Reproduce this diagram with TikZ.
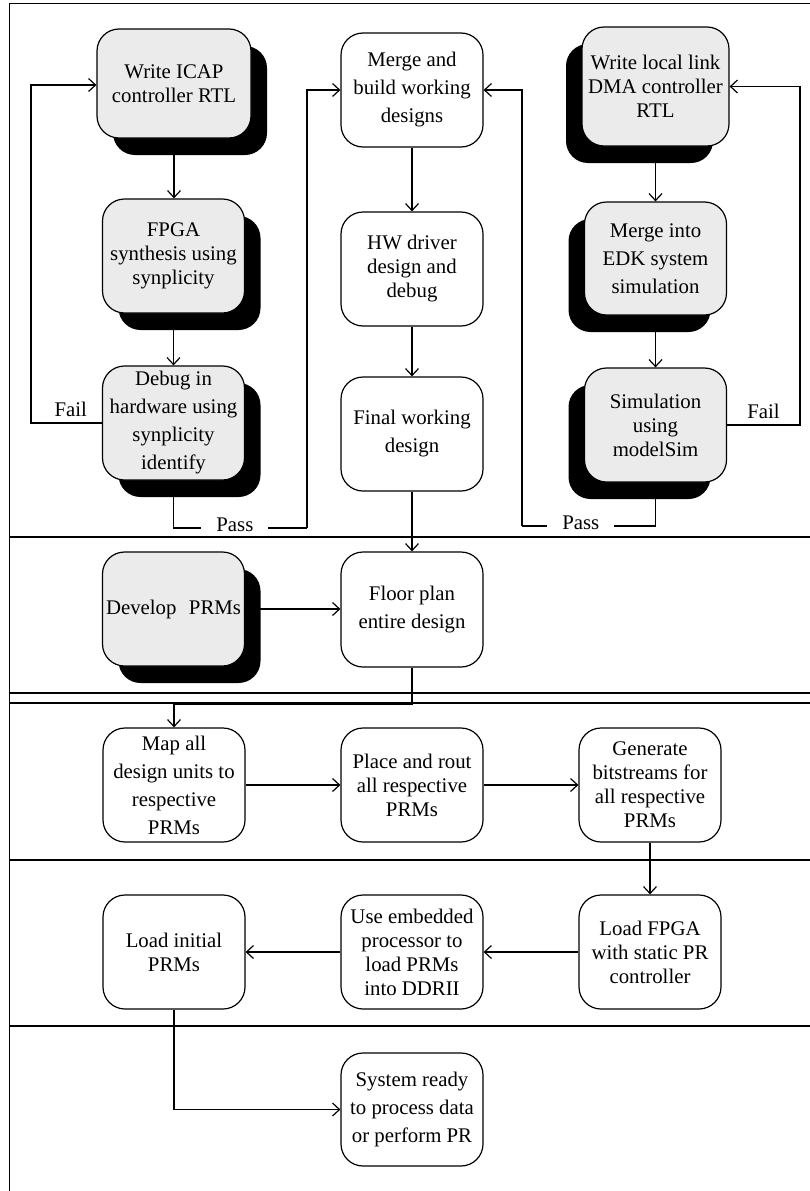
\documentclass[tikz,border=0pt]{standalone}
\usepackage{fontspec}
\setmainfont{Liberation Serif}
\usetikzlibrary{arrows.meta,shadows}
\definecolor{boxgray}{HTML}{EBEBEB}
\begin{document}
\begin{tikzpicture}[x=1pt,y=-1pt,
  every node/.style={inner sep=0pt},
  stepbox/.style={draw, line width=1.2pt, rounded corners=22pt, align=center,
    minimum width=142pt, minimum height=114pt, fill=white,
    font=\fontsize{20.8}{24}\selectfont},
  loose/.style={font=\fontsize{20.8}{28}\selectfont},
  graybox/.style={stepbox, fill=boxgray},
  shR/.style={drop shadow={shadow xshift=16pt, shadow yshift=-17pt, opacity=1, fill=black}},
  shL/.style={drop shadow={shadow xshift=-16pt, shadow yshift=-17pt, opacity=1, fill=black}},
  conn/.style={line width=1.2pt, -{Straight Barb[length=7pt,width=13pt]}},
  plain/.style={line width=1.2pt},
  sep/.style={line width=1.8pt},
  lbl/.style={font=\fontsize{20.8}{24}\selectfont},
  gaplbl/.style={lbl, fill=white, inner xsep=15pt, inner ysep=3pt, yshift=3pt},
]
\useasboundingbox (0,0) rectangle (809,1191);

% frame and lane separators
\draw[line width=1.5pt] (9.5,1200) -- (9.5,3.5) -- (820,3.5);
\foreach \yy in {537,693,703,860,1026}
  \draw[sep] (9.5,\yy) -- (820,\yy);

% anchor columns for the loop connectors
\coordinate (failL) at (31,0);
\coordinate (passL) at (307,528);
\coordinate (passR) at (522,526);
\coordinate (failR) at (800,0);
\coordinate (fm) at (0,704);

% first lane
\node[graybox, shR, minimum width=154pt, minimum height=109pt] (icap) at (174,83.5) {Write ICAP\\controller RTL};
\node[graybox, shR] (fpga) at (173.5,256) {FPGA\\synthesis using\\synplicity};
\node[graybox, shR, loose] (debug) at (173.5,423) {Debug in\\hardware using\\synplicity\\identify};

\node[stepbox, loose] (merge) at (412,90) {Merge and\\build working\\designs};
\node[stepbox] (hw) at (412,269) {HW driver\\design and\\debug};
\node[stepbox, loose] (final) at (412,434) {Final working\\design};

\node[graybox, shL, minimum width=147pt, minimum height=119pt] (dma) at (655.5,86.5) {Write local link\\DMA controller\\RTL};
\node[graybox, shL, loose, minimum height=113pt] (edk) at (655.5,258.5) {Merge into\\EDK system\\simulation};
\node[graybox, shL] (sim) at (655.5,425) {Simulation\\using\\modelSim};

% second lane
\node[graybox, shR] (develop) at (173.5,609) {Develop\hspace{0.6em}PRMs};
\node[stepbox, loose, minimum height=115pt] (floor) at (412,609.5) {Floor plan\\entire design};

% third lane
\node[stepbox, loose] (map) at (174,785) {Map all\\design units to\\respective\\PRMs};
\node[stepbox] (place) at (412,785) {Place and rout\\all respective\\PRMs};
\node[stepbox] (gen) at (650,785) {Generate\\bitstreams for\\all respective\\PRMs};

% fourth lane
\node[stepbox] (loadfpga) at (650,952) {Load FPGA\\with static PR\\controller};
\node[stepbox] (use) at (412,952) {Use embedded\\processor to\\load PRMs\\into DDRII};
\node[stepbox] (loadinit) at (174,952) {Load initial\\PRMs};

% fifth lane
\node[stepbox, loose, minimum height=113pt] (sys) at (412,1109.5) {System ready\\to process data\\or perform PR};

% connectors, first lane
\draw[conn] (icap.south) -- (icap.south |- fpga.north);
\draw[conn] (fpga.south) -- (debug.north);
\draw[conn] (debug.west) -- node[lbl, above=6pt, pos=0.44] (failtxtL) {Fail} (debug.west -| failL) |- (icap.west |- 0,85);
\draw[plain] (debug.south) |- node[gaplbl, pos=0.73] (passtxtL) {Pass} (passL);
\draw[conn] (passL) |- (merge.west);
\draw[conn] (merge) -- (hw);
\draw[conn] (hw) -- (final);
\draw[conn] (dma.south) -- (dma.south |- edk.north);
\draw[conn] (edk) -- (sim);
\draw[conn] (sim.east) -- node[lbl, above=6pt] (failtxtR) {Fail} (sim.east -| failR) |- (dma.east);
\draw[plain] (sim.south) |- node[gaplbl, pos=0.78] (passtxtR) {Pass} (passR);
\draw[conn] (passR) |- (merge.east);

% connectors, lower lanes
\draw[conn] (final) -- (floor);
\draw[conn] (develop.east) -- (floor.west |- develop.east);
\draw[conn] (floor.south) -- (floor.south |- fm) -| (map.north);
\draw[conn] (map) -- (place);
\draw[conn] (place) -- (gen);
\draw[conn] (gen) -- (loadfpga);
\draw[conn] (loadfpga) -- (use);
\draw[conn] (use) -- (loadinit);
\draw[conn] (loadinit.south) |- (sys.west);
\end{tikzpicture}
\end{document}
